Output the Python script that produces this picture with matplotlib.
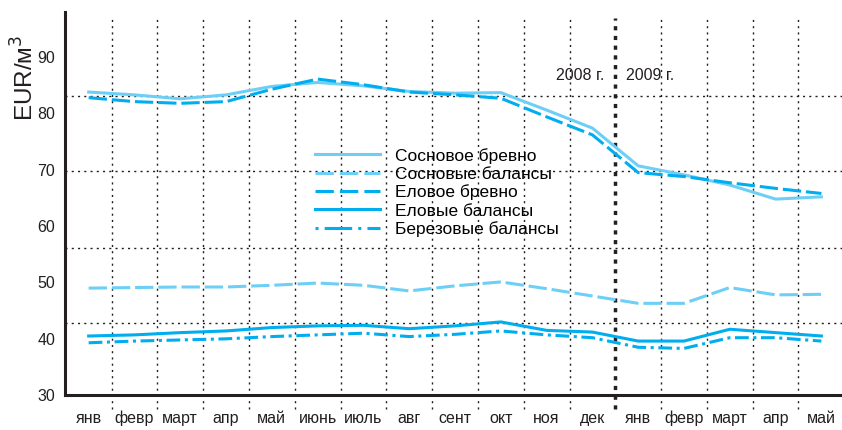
import numpy as np
import matplotlib.pyplot as plt
from matplotlib.lines import Line2D

plt.rcParams['font.family'] = ['Liberation Sans', 'DejaVu Sans']

months = ['янв', 'февр', 'март', 'апр', 'май', 'июнь', 'июль', 'авг', 'сент',
          'окт', 'ноя', 'дек', 'янв', 'февр', 'март', 'апр', 'май']

sosn_brevno = [83.8, 83.3, 82.6, 83.3, 84.8, 85.5, 84.9, 83.9, 83.6,
               83.7, 80.6, 77.4, 70.7, 69.1, 67.3, 64.8, 65.2]
sosn_balansy = [49.0, 49.1, 49.2, 49.2, 49.5, 49.9, 49.5, 48.5, 49.4,
                50.1, 48.9, 47.6, 46.3, 46.3, 49.1, 47.8, 47.9]
el_brevno = [82.8, 82.1, 81.8, 82.1, 84.3, 86.1, 85.1, 83.8, 83.3,
             82.7, 79.4, 76.2, 69.5, 68.8, 67.7, 66.7, 65.8]
el_balansy = [40.5, 40.7, 41.1, 41.4, 42.0, 42.3, 42.4, 41.8, 42.3,
              43.0, 41.5, 41.2, 39.6, 39.6, 41.7, 41.1, 40.5]
ber_balansy = [39.3, 39.6, 39.8, 40.0, 40.4, 40.7, 41.0, 40.4, 40.8,
               41.4, 40.7, 40.2, 38.5, 38.3, 40.2, 40.2, 39.6]

light = '#6dcff6'
dark = '#00aeef'
ink = '#231f20'

fig = plt.figure(figsize=(8.42, 4.30), dpi=100)
ax = fig.add_axes([0.077, 0.081, 0.923, 0.891])
x = np.arange(len(months))

ax.set_xlim(-0.52, 16.45)
ax.set_ylim(30, 98)

# dotted grid: horizontal lines and month boundaries
for gy in [42.8, 56.2, 69.7, 83.1]:
    ax.axhline(gy, color=ink, lw=1.0, ls=(0, (1.5, 3)), zorder=1)
for bx in np.arange(0.5, 16, 1.0):
    if bx == 11.5:
        continue
    ax.axvline(bx, ymin=-0.035, ymax=0.985, color=ink, lw=1.0, ls=(0, (1.5, 3)),
               clip_on=False, zorder=1)
# year divider
ax.axvline(11.5, ymin=-0.035, ymax=0.985, color=ink, lw=2.5, ls=(0, (1.2, 1.6)),
           clip_on=False, zorder=1)

lw = 2.2
ax.plot(x, sosn_brevno, color=light, lw=lw, zorder=3)
ax.plot(x, sosn_balansy, color=light, lw=lw, ls=(0, (6, 1.6)), zorder=3)
ax.plot(x, el_brevno, color=dark, lw=lw, ls=(0, (6, 1.6)), zorder=3)
ax.plot(x, el_balansy, color=dark, lw=lw, zorder=3)
ax.plot(x, ber_balansy, color=dark, lw=lw, ls=(0, (4.5, 1.5, 1, 1.5)), zorder=3)

handles = [
    Line2D([], [], color=light, lw=lw),
    Line2D([], [], color=light, lw=lw, ls=(0, (6, 2))),
    Line2D([], [], color=dark, lw=lw, ls=(0, (6, 2))),
    Line2D([], [], color=dark, lw=lw),
    Line2D([], [], color=dark, lw=lw, ls=(0, (1, 2, 9, 2))),
]
labels = ['Сосновое бревно', 'Сосновые балансы', 'Еловое бревно',
          'Еловые балансы', 'Березовые балансы']
ax.legend(handles, labels, loc='center left', bbox_to_anchor=(0.322, 0.529),
          frameon=False, fontsize=12.5, handlelength=3.74, handletextpad=0.86,
          labelspacing=0.17, borderaxespad=0, borderpad=0)

ax.text(10.74, 86.8, '2008 г.', fontsize=11.5, color=ink, ha='center', va='center')
ax.text(12.25, 86.8, '2009 г.', fontsize=11.5, color=ink, ha='center', va='center')

ax.set_xticks(x)
ax.set_xticklabels(months, va='baseline')
ax.set_yticks(np.arange(30, 91, 10))
ax.tick_params(length=0, labelsize=11.5, colors=ink, pad=7)
ax.tick_params(axis='x', pad=20)

for s in ['top', 'right']:
    ax.spines[s].set_visible(False)
for s in ['left', 'bottom']:
    ax.spines[s].set_color(ink)
    ax.spines[s].set_linewidth(2.2)

fig.text(0.03, 0.82, 'EUR/м$^3$', rotation=90, fontsize=17.5, color=ink,
         ha='center', va='center')

fig.savefig('out.png', dpi=100)
